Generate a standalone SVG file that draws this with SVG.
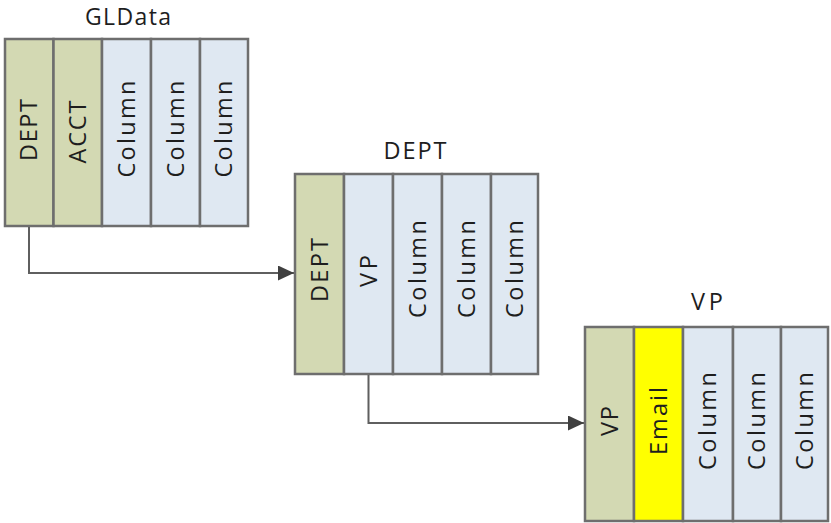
<svg xmlns="http://www.w3.org/2000/svg" width="831" height="523" viewBox="0 0 831 523">
<defs>
<style>
.k{fill:#d3d9b3;stroke:#6e6e6e;stroke-width:2.5}
.b{fill:#dfe8f2;stroke:#6e6e6e;stroke-width:2.5}
.y{fill:#ffff00;stroke:#6e6e6e;stroke-width:2.5}
text{font-family:"Open Sans","Liberation Sans",Arial,sans-serif;font-size:23.5px;fill:#1e1e1e;text-anchor:middle}
.c{fill:none;stroke:#5f5f5f;stroke-width:2}
</style>
<marker id="ah" markerUnits="userSpaceOnUse" markerWidth="18" markerHeight="16" refX="16" refY="7.5" orient="auto">
<path d="M0,0 L16,7.5 L0,15 Z" fill="#3f3f3f"/>
</marker>
</defs>
<rect width="831" height="523" fill="#ffffff"/>

<g id="GLData">
<text x="128" y="25" style="font-size:23px" textLength="86" lengthAdjust="spacing">GLData</text>
<rect class="k" x="5" y="39" width="48.5" height="187"/>
<rect class="k" x="53.5" y="39" width="48.5" height="187"/>
<rect class="b" x="102" y="39" width="49" height="187"/>
<rect class="b" x="151" y="39" width="49" height="187"/>
<rect class="b" x="200" y="39" width="48" height="187"/>
<text transform="translate(37,130) rotate(-90)" textLength="62" lengthAdjust="spacing">DEPT</text>
<text transform="translate(86,132) rotate(-90)" textLength="63" lengthAdjust="spacing">ACCT</text>
<text transform="translate(134.5,129) rotate(-90)" textLength="97" lengthAdjust="spacing">Column</text>
<text transform="translate(183.5,129) rotate(-90)" textLength="97" lengthAdjust="spacing">Column</text>
<text transform="translate(232,129) rotate(-90)" textLength="97" lengthAdjust="spacing">Column</text>
</g>

<g id="DEPT">
<text x="415" y="159" textLength="63" lengthAdjust="spacing">DEPT</text>
<rect class="k" x="295" y="174" width="49" height="200"/>
<rect class="b" x="344" y="174" width="49" height="200"/>
<rect class="b" x="393" y="174" width="49" height="200"/>
<rect class="b" x="442" y="174" width="49" height="200"/>
<rect class="b" x="491" y="174" width="47" height="200"/>
<text transform="translate(327.5,270) rotate(-90)" textLength="64" lengthAdjust="spacing">DEPT</text>
<text transform="translate(376.5,271) rotate(-90)" textLength="32" lengthAdjust="spacing">VP</text>
<text transform="translate(425.5,269) rotate(-90)" textLength="98" lengthAdjust="spacing">Column</text>
<text transform="translate(474.5,269) rotate(-90)" textLength="98" lengthAdjust="spacing">Column</text>
<text transform="translate(522.5,269) rotate(-90)" textLength="98" lengthAdjust="spacing">Column</text>
</g>

<g id="VP">
<text x="707" y="310" textLength="32" lengthAdjust="spacing">VP</text>
<rect class="k" x="585" y="327" width="49" height="194"/>
<rect class="y" x="634" y="327" width="49" height="194"/>
<rect class="b" x="683" y="327" width="50" height="194"/>
<rect class="b" x="733" y="327" width="48" height="194"/>
<rect class="b" x="781" y="327" width="47" height="194"/>
<text transform="translate(617.5,421) rotate(-90)" textLength="30" lengthAdjust="spacing">VP</text>
<text transform="translate(666.5,421) rotate(-90)" textLength="68" lengthAdjust="spacing">Email</text>
<text transform="translate(716,421) rotate(-90)" textLength="98" lengthAdjust="spacing">Column</text>
<text transform="translate(765,421) rotate(-90)" textLength="98" lengthAdjust="spacing">Column</text>
<text transform="translate(812.5,421) rotate(-90)" textLength="98" lengthAdjust="spacing">Column</text>
</g>

<g id="connectors">
<path class="c" d="M29,227 V273 H294" marker-end="url(#ah)"/>
<path class="c" d="M368.5,375 V423 H584" marker-end="url(#ah)"/>
</g>
</svg>
